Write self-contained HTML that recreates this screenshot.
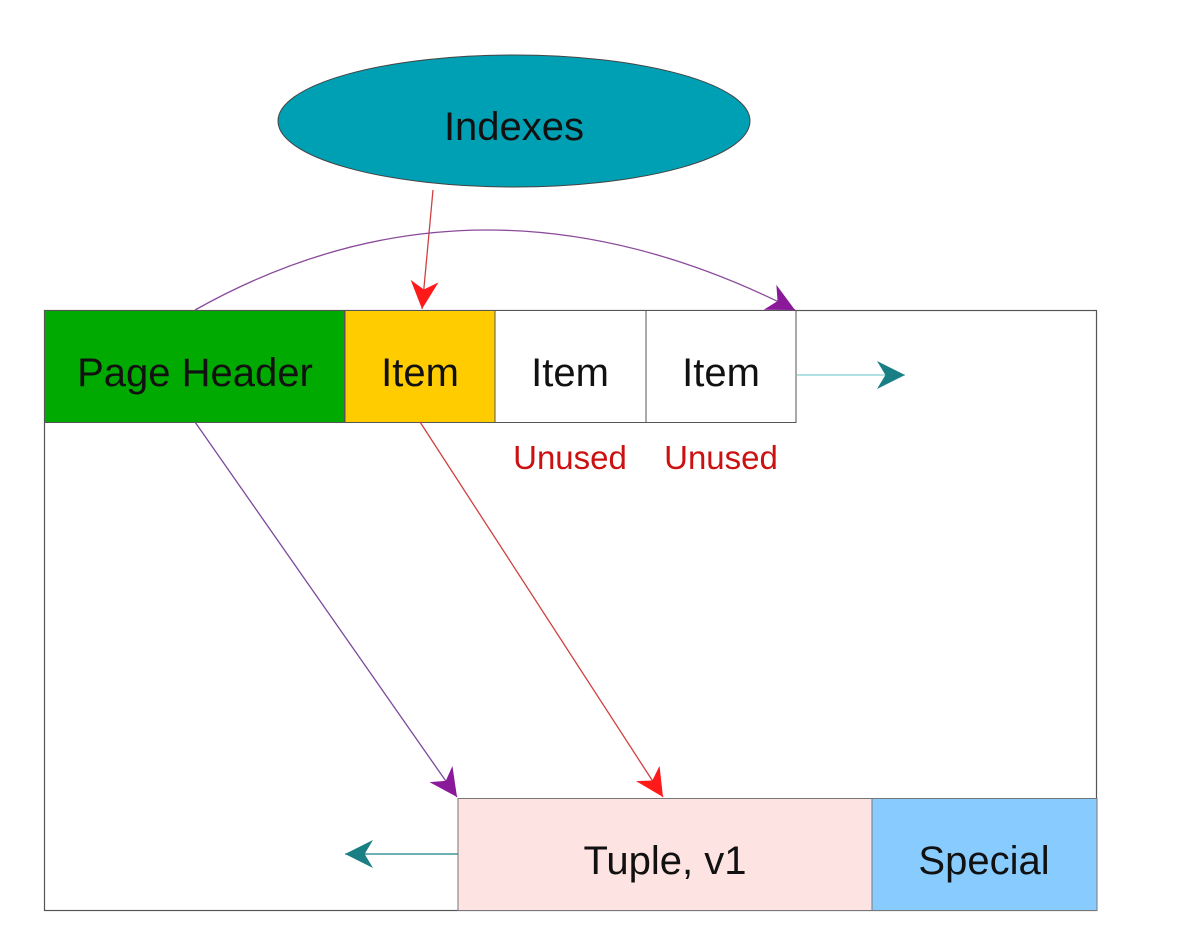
<!DOCTYPE html>
<html><head><style>body{margin:0;background:#fff}svg{display:block}text{font-family:"Liberation Sans",sans-serif}</style></head><body>
<svg width="1179" height="938" viewBox="0 0 1179 938">
<defs>
<marker id="r" viewBox="0 0 10 10" refX="10" refY="5" markerWidth="28" markerHeight="28" markerUnits="userSpaceOnUse" orient="auto"><path d="M0,0L10,5L0,10L3,5z" fill="#ff1a1a"/></marker>
<marker id="p" viewBox="0 0 10 10" refX="10" refY="5" markerWidth="28" markerHeight="28" markerUnits="userSpaceOnUse" orient="auto"><path d="M0,0L10,5L0,10L3,5z" fill="#8a1a9a"/></marker>
<marker id="t" viewBox="0 0 10 10" refX="10" refY="5" markerWidth="28" markerHeight="28" markerUnits="userSpaceOnUse" orient="auto"><path d="M0,0L10,5L0,10L3,5z" fill="#1a7f85"/></marker>
</defs>
<rect x="44.5" y="310.5" width="1052" height="600" fill="#fff" stroke="#555" stroke-width="1.2"/>
<rect x="44.5" y="310.5" width="300" height="112" fill="#00aa00" stroke="#555"/>
<rect x="345" y="310.5" width="150" height="112" fill="#ffcc00" stroke="#555"/>
<rect x="495" y="310.5" width="151" height="112" fill="#fff" stroke="#555"/>
<rect x="646" y="310.5" width="150" height="112" fill="#fff" stroke="#555"/>
<rect x="458" y="798.5" width="414" height="112" fill="#fde4e2" stroke="#777"/>
<rect x="872" y="798.5" width="225" height="112" fill="#88ccff" stroke="#777"/>
<ellipse cx="514" cy="121" rx="236" ry="66" fill="#00a0b4" stroke="#444"/>
<g font-size="40" text-anchor="middle" fill="#111">
<text x="514" y="140">Indexes</text>
<text x="195" y="386">Page Header</text>
<text x="420" y="386">Item</text>
<text x="570" y="386">Item</text>
<text x="721" y="386">Item</text>
<text x="665" y="874">Tuple, v1</text>
<text x="984" y="874">Special</text>
</g>
<g font-size="33" text-anchor="middle" fill="#cc1111">
<text x="570" y="469">Unused</text>
<text x="721" y="469">Unused</text>
</g>
<g fill="none" stroke-width="1.3">
<line x1="433" y1="190" x2="422" y2="309" stroke="#d04040" marker-end="url(#r)"/>
<path d="M195,310 Q480,150 795,310" stroke="#8a4a9a" marker-end="url(#p)"/>
<line x1="195" y1="422" x2="457" y2="797" stroke="#7a4a9a" marker-end="url(#p)"/>
<line x1="420" y1="422" x2="663" y2="797" stroke="#d04040" marker-end="url(#r)"/>
<line x1="797" y1="375" x2="905" y2="375" stroke="#7fd0d0" marker-end="url(#t)"/>
<line x1="458" y1="854" x2="345" y2="854" stroke="#1a7f85" marker-end="url(#t)"/>
</g>
</svg>
</body></html>
